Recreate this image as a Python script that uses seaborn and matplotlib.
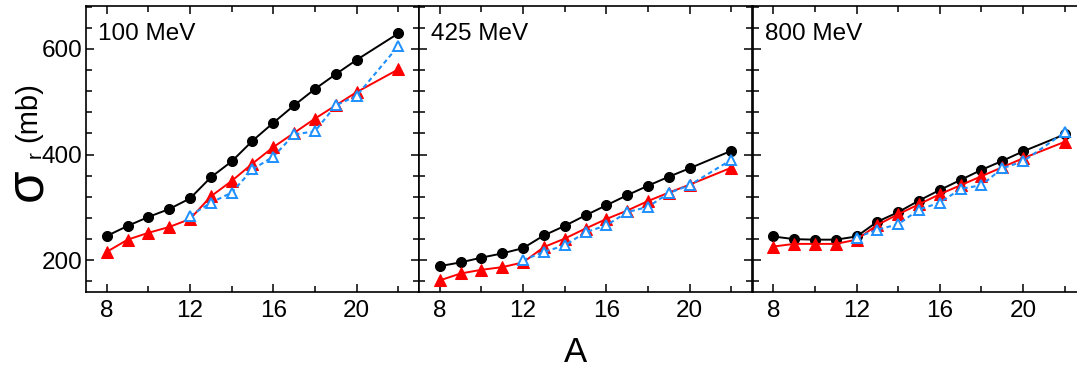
import numpy as np
import pandas as pd
import matplotlib
matplotlib.use("Agg")
import matplotlib.pyplot as plt
from matplotlib.ticker import MultipleLocator
import seaborn as sns

sns.set_theme(style="white")
plt.rcParams['font.family'] = ['Liberation Sans', 'DejaVu Sans']
plt.rcParams.update({
    "text.color": "black",
    "axes.labelcolor": "black",
    "xtick.color": "black",
    "ytick.color": "black",
    "axes.edgecolor": "black",
})

# ---- data ----
A_full = [8, 9, 10, 11, 12, 13, 14, 15, 16, 17, 18, 19, 20, 22]
A_blue = [12, 13, 14, 15, 16, 17, 18, 19, 20, 22]
energies = ["100 MeV", "425 MeV", "800 MeV"]

black_100 = [246, 265, 282, 297, 317, 357, 387, 426, 460, 493, 524, 552, 579, 629]
red_100 = [216, 239, 252, 263, 278, 321, 350, 383, 414, 441, 468, 493, 518, 561]
blue_100 = [284, 309, 328, 372, 396, 438, 444, 493, 511, 605]

black_425 = [189, 196, 205, 213, 223, 247, 265, 285, 304, 323, 341, 358, 374, 407]
red_425 = [162, 175, 182, 187, 196, 225, 241, 260, 278, 294, 312, 328, 343, 375]
blue_425 = [200, 216, 228, 253, 266, 291, 301, 327, 342, 390]

black_800 = [245, 240, 239, 239, 245, 273, 291, 313, 333, 352, 371, 388, 406, 438]
red_800 = [226, 231, 231, 231, 239, 267, 287, 306, 325, 342, 359, 376, 393, 424]
blue_800 = [243, 258, 268, 296, 309, 335, 342, 374, 387, 442]

blacks = [black_100, black_425, black_800]
reds = [red_100, red_425, red_800]
blues = [blue_100, blue_425, blue_800]

W, H = 1077, 366
fig = plt.figure(figsize=(W / 100, H / 100), dpi=100)

lefts = [86, 419, 752.5]
axw = 333
top_px, bot_px = 6, 292

BLUE = "#1e8fff"
for i in range(3):
    ax = fig.add_axes([lefts[i] / W, (H - bot_px) / H, axw / W, (bot_px - top_px) / H])
    sns.lineplot(x=A_full, y=blacks[i], ax=ax, color="black", lw=1.4,
                 marker="o", markersize=7.2, markeredgecolor="black", zorder=3)
    sns.lineplot(x=A_full, y=reds[i], ax=ax, color="red", lw=1.4,
                 marker="^", markersize=8.5, markeredgecolor="red", zorder=4)
    sns.lineplot(x=A_blue, y=blues[i], ax=ax, color=BLUE, lw=1.5,
                 linestyle=(0, (2.2, 1.6)),
                 marker="^", markersize=6.5, markerfacecolor="white",
                 markeredgecolor=BLUE, markeredgewidth=1.4, zorder=5)
    ax.set_xlim(7, 23)
    ax.set_ylim(140, 681)
    ax.xaxis.set_major_locator(MultipleLocator(4))
    ax.xaxis.set_minor_locator(MultipleLocator(2))
    ax.yaxis.set_major_locator(MultipleLocator(200))
    ax.yaxis.set_minor_locator(MultipleLocator(40))
    ax.tick_params(which="both", direction="in", top=True, right=True,
                   bottom=True, left=True, color="black", labelcolor="black", width=1.1)
    ax.tick_params(which="major", length=6, labelsize=17.5)
    ax.tick_params(which="minor", length=4)
    ax.tick_params(axis="x", which="major", pad=6)
    ax.tick_params(axis="y", which="major", pad=2.5)
    for s in ax.spines.values():
        s.set_color("black")
        s.set_linewidth(1.2)
    ax.set_xlabel("")
    ax.set_ylabel("")
    if i > 0:
        ax.set_yticklabels([])
    ax.text(12.5 / axw, 1 - 34 / (bot_px - top_px), energies[i], transform=ax.transAxes,
            fontsize=17.5, ha="left", va="baseline", color="black")
    ax.grid(False)

# x label
fig.text(575 / W, 1 - 361.5 / H, "A", fontsize=25, ha="center", va="baseline", color="black")
# y label pieces
fig.text(41 / W, 1 - 185 / H, "σ", fontsize=38, rotation=90, rotation_mode="anchor",
         ha="center", va="baseline", color="black")
fig.text(41 / W, 1 - 155 / H, "r", fontsize=15, rotation=90, rotation_mode="anchor",
         ha="center", va="baseline", color="black")
fig.text(36 / W, 1 - 112 / H, "(mb)", fontsize=21, rotation=90, rotation_mode="anchor",
         ha="center", va="baseline", color="black")

fig.savefig("out.png", dpi=100)
